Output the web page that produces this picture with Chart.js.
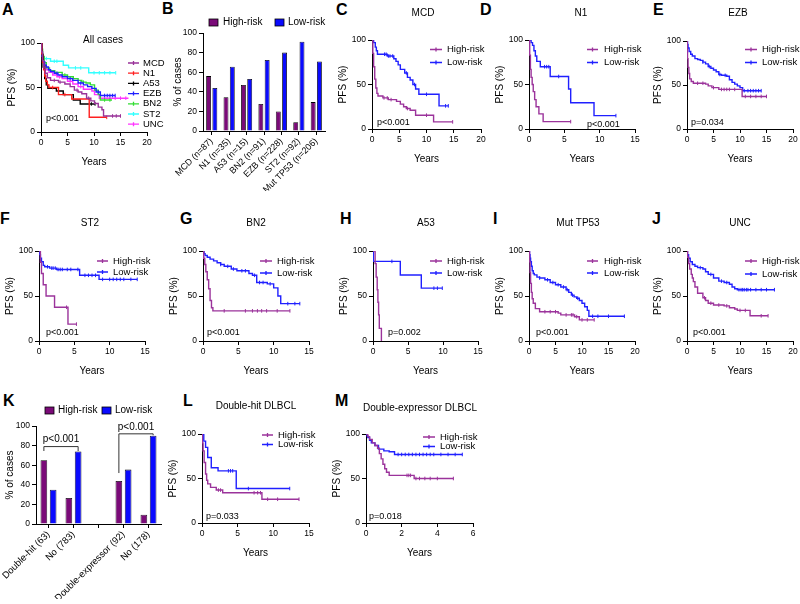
<!DOCTYPE html>
<html>
<head>
<meta charset="utf-8">
<title>PFS by risk group</title>
<script src="https://cdn.jsdelivr.net/npm/chart.js@4.4.1/dist/chart.umd.min.js"></script>
<style>
  body { margin: 0; background: #fff; }
  #wrap { position: relative; width: 800px; height: 604px; overflow: hidden; font-family: "Liberation Sans", Arial, sans-serif; }
  canvas { position: absolute; }
  .tag { position: absolute; font-size: 16px; line-height: 16px; font-weight: bold; color: #000; }
</style>
</head>
<body>
<div id="wrap">
  <div class="tag" style="left:2px;top:2px">A</div>
  <div class="tag" style="left:162px;top:1px">B</div>
  <div class="tag" style="left:336px;top:2px">C</div>
  <div class="tag" style="left:480px;top:2px">D</div>
  <div class="tag" style="left:653px;top:2px">E</div>
  <div class="tag" style="left:0px;top:211px">F</div>
  <div class="tag" style="left:180px;top:211px">G</div>
  <div class="tag" style="left:340px;top:211px">H</div>
  <div class="tag" style="left:493px;top:211px">I</div>
  <div class="tag" style="left:652px;top:211px">J</div>
  <div class="tag" style="left:3px;top:393px">K</div>
  <div class="tag" style="left:183px;top:393px">L</div>
  <div class="tag" style="left:335px;top:393px">M</div>
  <canvas id="cA"></canvas>
  <canvas id="cB"></canvas>
  <canvas id="cC"></canvas>
  <canvas id="cD"></canvas>
  <canvas id="cE"></canvas>
  <canvas id="cF"></canvas>
  <canvas id="cG"></canvas>
  <canvas id="cH"></canvas>
  <canvas id="cI"></canvas>
  <canvas id="cJ"></canvas>
  <canvas id="cK"></canvas>
  <canvas id="cL"></canvas>
  <canvas id="cM"></canvas>
</div>
<script>
// ---- data: step times (years), survival (%) and censor times ----

// A: all cases by subtype
const mcdAllT = [0, 0.1, 0.3, 0.5, 0.8, 1.2, 1.8, 3.3, 4.5, 5.5, 6.3, 7.0, 7.7, 8.6, 9.4, 10.1, 10.8, 11.5, 11.8, 15.0];
const mcdAllS = [100, 90, 80, 72, 66, 61, 58, 56, 54, 51, 47, 45, 43, 38, 35, 32, 28, 25, 18, 18];
const mcdAllC = [2.5, 3.6, 6.8, 9.0, 13.5, 14.2, 15.0];
const n1AllT = [0, 0.15, 0.3, 0.5, 0.7, 0.9, 1.2, 1.5, 3.3, 5.8, 9.1, 12.4];
const n1AllS = [100, 88, 78, 70, 63, 57, 53, 50, 42, 37, 16.5, 16.5];
const n1AllC = [2.2, 4.5, 12.4];
const a53AllT = [0, 0.2, 0.4, 0.7, 1.0, 1.3, 2.9, 4.2, 6.1, 7.4, 10.2];
const a53AllS = [100, 87, 73, 60, 53, 49, 46, 42, 36, 31.5, 31.5];
const a53AllC = [9.5, 10.2];
const ezbAllT = [0, 0.1, 0.2, 0.4, 0.7, 1.0, 1.4, 1.8, 2.5, 3.2, 4.0, 5.0, 6.0, 7.0, 8.0, 8.8, 9.6, 10.4, 11.2, 14.0];
const ezbAllS = [100, 92, 85, 79, 75, 73, 70, 68, 66, 64, 62, 60, 58, 55, 53, 51, 49, 45, 41, 41];
const ezbAllC = [3.0, 5.5, 7.5, 10.8, 12.0, 12.5, 13.0, 13.5, 14.0];
const bn2AllT = [0, 0.1, 0.3, 0.6, 1.0, 1.6, 2.6, 4.0, 5.0, 6.1, 7.0, 7.7, 8.5, 9.3, 10.1, 10.8, 11.2, 13.4];
const bn2AllS = [100, 93, 85, 78, 72, 69, 67, 64, 62, 60, 58, 56, 55, 53, 47, 42, 36, 36];
const bn2AllC = [4.5, 8.0, 12.0, 13.0];
const st2AllT = [0, 0.1, 0.2, 0.4, 0.6, 1.8, 4.2, 5.2, 9.0, 14.1];
const st2AllS = [100, 92, 87, 84, 82.5, 79.5, 75, 72, 66.5, 66.5];
const st2AllC = [1.0, 2.5, 3.0, 6.5, 7.5, 10.0, 11.0, 12.0, 13.0, 14.1];
const uncAllT = [0, 0.1, 0.3, 0.6, 1.0, 1.5, 2.2, 3.0, 4.0, 5.0, 6.0, 7.0, 8.0, 9.6, 10.1, 11.0, 16.5];
const uncAllS = [100, 90, 82, 75, 70, 67, 64, 62, 60, 57, 54, 51, 48, 46, 42, 38, 38];
const uncAllC = [3.5, 5.5, 7.5, 12.0, 13.0, 14.0, 15.0, 16.0];

// B: share of high / low risk per subtype
const subtypeLabels = ['MCD (n=87)', 'N1 (n=35)', 'A53 (n=15)', 'BN2 (n=91)', 'EZB (n=228)', 'ST2 (n=92)', 'Mut TP53 (n=206)'];
const subtypeHigh = [56, 34.5, 47, 27.5, 20, 9, 29.5];
const subtypeLow = [44, 65.5, 53, 72.5, 80, 91, 71];

// C: MCD
const mcdHighT = [0, 0.15, 0.3, 0.5, 0.7, 0.9, 1.1, 2.0, 3.0, 4.5, 5.2, 5.8, 6.3, 7.0, 8.0, 11.3, 14.8];
const mcdHighS = [100, 85, 70, 56, 46, 40, 37, 35, 33, 31, 28, 25, 23, 21, 15.5, 8, 8];
const mcdHighC = [2.2, 2.8, 3.5, 6.5, 10.0, 14.8];
const mcdLowT = [0, 0.3, 0.6, 0.8, 1.0, 2.8, 4.0, 4.4, 4.8, 5.2, 6.0, 6.5, 7.0, 7.5, 8.0, 8.6, 12.3, 14.0];
const mcdLowS = [100, 97, 92, 88, 84, 82, 79, 76, 72, 67, 63, 58, 55, 50, 45, 39, 26, 26];
const mcdLowC = [2.3, 2.6, 3.0, 3.3, 3.8, 6.3, 7.8, 10.0, 13.5, 14.0];

// D: N1
const n1HighT = [0, 0.1, 0.2, 0.3, 0.45, 0.6, 0.8, 1.0, 1.4, 2.0, 5.9];
const n1HighS = [100, 83, 67, 58, 50, 42, 33, 25, 17, 8.3, 8.3];
const n1HighC = [5.9];
const n1LowT = [0, 0.3, 0.5, 0.7, 0.9, 1.1, 1.6, 3.0, 5.6, 5.9, 9.2, 12.3];
const n1LowS = [100, 97, 94, 88, 82, 76, 70, 59, 45, 29.5, 15, 15];
const n1LowC = [2.2, 2.5, 2.8, 4.2, 12.3];

// E: EZB
const ezbHighT = [0, 0.05, 0.1, 0.2, 0.35, 0.5, 0.8, 1.2, 3.5, 4.0, 4.7, 6.0, 10.4, 15.0];
const ezbHighS = [100, 90, 80, 70, 63, 57, 54, 52, 51, 49, 47, 45, 37, 37];
const ezbHighC = [2.0, 3.0, 5.0, 6.5, 7.0, 7.5, 8.0, 9.0, 11.0, 12.0, 13.0, 14.0, 15.0];
const ezbLowT = [0, 0.1, 0.2, 0.4, 0.7, 1.0, 1.5, 2.0, 2.5, 3.0, 3.5, 4.0, 4.5, 5.0, 5.5, 6.0, 6.5, 7.5, 8.0, 8.5, 9.0, 9.5, 10.0, 10.5, 14.0];
const ezbLowS = [100, 96, 92, 88, 85, 83, 80, 79, 78, 76, 74, 71, 69, 67, 65, 62, 61, 60, 56, 53, 51, 49, 47, 43.5, 43.5];
const ezbLowC = [3.0, 4.2, 6.2, 7.2, 10.8, 11.5, 12.0, 12.5, 13.0, 13.5, 14.0];

// F: ST2
const st2HighT = [0, 0.2, 0.35, 0.6, 1.0, 2.2, 4.1, 5.3];
const st2HighS = [100, 87.5, 75, 62.5, 50, 37.5, 18.75, 18.75];
const st2HighC = [3.9, 5.3];
const st2LowT = [0, 0.1, 0.2, 0.35, 0.6, 0.8, 1.5, 2.5, 5.75, 8.5, 13.9];
const st2LowS = [100, 96, 92, 88, 84, 82.5, 81, 79.5, 73, 68.5, 68.5];
const st2LowC = [1.2, 1.8, 2.0, 2.3, 2.7, 3.0, 3.3, 4.0, 4.5, 5.5, 6.5, 7.0, 7.5, 8.0, 9.0, 10.0, 10.5, 11.0, 11.5, 12.0, 13.0, 13.9];

// G: BN2
const bn2HighT = [0, 0.1, 0.25, 0.4, 0.6, 0.8, 1.0, 1.2, 1.4, 12.3];
const bn2HighS = [100, 92, 85, 77, 68, 58, 45, 37, 33.5, 33.5];
const bn2HighC = [3.0, 6.0, 7.0, 7.7, 8.3, 9.0, 10.5, 12.3];
const bn2LowT = [0, 0.15, 0.3, 0.6, 1.0, 1.5, 2.0, 2.5, 3.0, 4.0, 4.8, 6.5, 7.0, 7.6, 9.1, 10.0, 10.6, 11.0, 13.7];
const bn2LowS = [100, 97, 95, 93, 91, 89, 87, 85, 83, 80, 78, 75, 73, 65, 63.5, 59, 50, 41.5, 41.5];
const bn2LowC = [2.5, 3.5, 4.3, 5.5, 6.0, 7.3, 8.0, 8.5, 9.5, 12.0, 13.0, 13.7];

// H: A53
const a53HighT = [0, 0.3, 0.45, 0.6, 0.7, 0.8, 0.9, 1.2];
const a53HighS = [100, 86, 71, 57, 43, 29, 14, 0];
const a53HighC = [];
const a53LowT = [0, 0.05, 3.9, 6.9, 9.9];
const a53LowS = [100, 88.5, 73.3, 58.7, 58.7];
const a53LowC = [2.7, 8.7, 9.2, 9.9];

// I: Mut TP53
const tp53HighT = [0, 0.1, 0.2, 0.3, 0.45, 0.6, 0.8, 1.2, 2.0, 5.5, 6.0, 8.6, 9.5, 12.3];
const tp53HighS = [100, 88, 76, 64, 54, 47, 42, 36, 32.5, 31, 29, 27, 23.5, 23.5];
const tp53HighC = [3.0, 4.0, 5.0, 7.0, 8.0, 8.3, 9.0, 10.0, 11.0, 12.3];
const tp53LowT = [0, 0.1, 0.2, 0.3, 0.45, 0.6, 0.8, 1.0, 1.5, 2.0, 3.0, 4.0, 5.0, 6.0, 7.0, 7.5, 8.0, 8.5, 9.0, 9.5, 10.0, 10.5, 11.0, 11.3, 18.0];
const tp53LowS = [100, 96, 92, 88, 83, 78, 75, 73.5, 71, 70, 68, 65, 62.5, 60, 57, 54, 51, 49, 47.5, 45, 42, 38, 34, 27.5, 27.5];
const tp53LowC = [2.0, 3.5, 4.5, 5.5, 6.5, 7.2, 8.2, 9.2, 12.0, 13.0, 15.0, 18.0];

// J: UNC
const uncHighT = [0, 0.1, 0.3, 0.5, 0.8, 1.0, 1.2, 1.5, 2.0, 3.0, 3.5, 4.0, 5.0, 7.0, 8.0, 9.0, 9.5, 11.9, 15.3];
const uncHighS = [100, 93, 86, 80, 74, 70, 66, 60, 53, 48, 45, 42, 40, 39, 37, 35.5, 34, 28, 28];
const uncHighC = [3.3, 4.5, 6.0, 7.5, 10.0, 11.0, 14.0, 15.3];
const uncLowT = [0, 0.1, 0.3, 0.6, 1.0, 1.5, 2.0, 3.0, 3.5, 4.0, 5.0, 6.0, 7.0, 8.0, 8.5, 9.0, 9.5, 16.5];
const uncLowS = [100, 96, 92, 88, 85, 83, 81.5, 80, 77, 74, 70, 66.5, 65, 63, 60, 58, 57, 57];
const uncLowC = [2.5, 4.5, 6.5, 7.5, 9.8, 10.2, 10.5, 10.8, 11.2, 11.5, 12.0, 13.0, 14.0, 15.0, 16.5];

// K: double-hit / double-expressor share
const dlbclLabels = ['Double-hit (63)', 'No (783)', '', 'Double-expressor (92)', 'No (178)'];
const dlbclHigh = [65, 26.5, null, 44, 9.5];
const dlbclLow = [35, 74, null, 55.5, 90];

// L: double-hit DLBCL
const dhHighT = [0, 0.05, 0.15, 0.3, 0.5, 0.65, 0.8, 1.2, 2.0, 2.9, 8.4, 13.6];
const dhHighS = [100, 90, 81, 68, 55, 48, 44, 40, 37, 34, 26.7, 26.7];
const dhHighC = [2.3, 2.6, 7.3, 7.8, 8.2, 9.2, 10.6, 13.6];
const dhLowT = [0, 0.25, 0.5, 0.8, 1.3, 2.25, 4.8, 12.3];
const dhLowS = [100, 92, 85, 73.6, 62, 58.6, 38.7, 38.7];
const dhLowC = [3.7, 4.0, 4.3, 6.5, 12.3];

// M: double-expressor DLBCL
const deHighT = [0, 0.1, 0.2, 0.35, 0.5, 0.65, 0.75, 0.85, 0.95, 1.05, 1.15, 1.3, 2.7, 4.9];
const deHighS = [100, 97, 94, 90, 87, 84, 78, 72, 66, 61, 57, 53.5, 50, 50];
const deHighC = [2.3, 2.4, 2.5, 2.8, 3.0, 3.3, 3.6, 4.0, 4.9];
const deLowT = [0, 0.05, 0.1, 0.2, 0.3, 0.5, 0.7, 1.0, 1.3, 1.6, 5.4];
const deLowS = [100, 98, 96, 93, 90, 87, 83, 81, 80, 77, 77];
const deLowC = [1.8, 2.0, 2.2, 2.4, 2.6, 2.8, 3.0, 3.2, 3.4, 3.6, 3.8, 4.2, 4.6, 5.0, 5.4];

// ---- styling ----
const HIGH = '#9b339b';
const LOW = '#2020ff';
const HIGH_BAR = '#7a0a78';
const LOW_BAR = '#0a0aff';
const FONT = '"Liberation Sans", Arial, sans-serif';

Chart.defaults.font.family = FONT;
Chart.defaults.color = '#000';

function survAt(T, S, t) {
  let s = S[0];
  for (let i = 0; i < T.length; i++) {
    if (T[i] <= t) s = S[i];
  }
  return s;
}

function axis(extra) {
  return Object.assign({
    border: { display: true, color: '#000', width: 1 },
    grid: { display: true, drawOnChartArea: false, drawTicks: true, tickLength: 4, color: '#000', lineWidth: 1 },
  }, extra);
}

function hr(name, t, s, c, color) {
  return { name: name, t: t, s: s, c: c, color: color };
}

const kmPanels = [
  { id: 'cA', ox: 41, oy: 132, top: 43, xLen: 106, xMax: 20, step: 5,
    title: 'All cases', tx: 103, ty: 40, p: 'p<0.001', px: 46, py: 119,
    leg: { x1: 128, x2: 139, tx: 143, y0: 63, dy: 10.2 },
    curves: [hr('MCD', mcdAllT, mcdAllS, mcdAllC, '#993399'), hr('N1', n1AllT, n1AllS, n1AllC, '#ff2020'),
      hr('A53', a53AllT, a53AllS, a53AllC, '#000000'), hr('EZB', ezbAllT, ezbAllS, ezbAllC, '#1f1fff'),
      hr('BN2', bn2AllT, bn2AllS, bn2AllC, '#33dd33'), hr('ST2', st2AllT, st2AllS, st2AllC, '#33ffff'),
      hr('UNC', uncAllT, uncAllS, uncAllC, '#ff33ff')] },
  { id: 'cC', ox: 372, oy: 129, top: 40, xLen: 109, xMax: 20, step: 5,
    title: 'MCD', tx: 423, ty: 13, p: 'p<0.001', px: 377, py: 123,
    leg: { x1: 430, x2: 442, tx: 447, y0: 49.5, dy: 13 },
    curves: [hr('High-risk', mcdHighT, mcdHighS, mcdHighC, HIGH), hr('Low-risk', mcdLowT, mcdLowS, mcdLowC, LOW)] },
  { id: 'cD', ox: 529, oy: 129, top: 40, xLen: 106, xMax: 15, step: 5,
    title: 'N1', tx: 581, ty: 13, p: 'p<0.001', px: 587, py: 125,
    leg: { x1: 587, x2: 598, tx: 604, y0: 49.5, dy: 13 },
    curves: [hr('High-risk', n1HighT, n1HighS, n1HighC, HIGH), hr('Low-risk', n1LowT, n1LowS, n1LowC, LOW)] },
  { id: 'cE', ox: 687, oy: 129, top: 41, xLen: 106, xMax: 20, step: 5,
    title: 'EZB', tx: 738, ty: 13, p: 'p=0.034', px: 691, py: 123,
    leg: { x1: 745, x2: 757, tx: 762, y0: 49.5, dy: 13 },
    curves: [hr('High-risk', ezbHighT, ezbHighS, ezbHighC, HIGH), hr('Low-risk', ezbLowT, ezbLowS, ezbLowC, LOW)] },
  { id: 'cF', ox: 39, oy: 341, top: 251, xLen: 106, xMax: 15, step: 5,
    title: 'ST2', tx: 90, ty: 223, p: 'p<0.001', px: 46, py: 333,
    leg: { x1: 97, x2: 108, tx: 113, y0: 261, dy: 11 },
    curves: [hr('High-risk', st2HighT, st2HighS, st2HighC, HIGH), hr('Low-risk', st2LowT, st2LowS, st2LowC, LOW)] },
  { id: 'cG', ox: 203, oy: 341, top: 251, xLen: 106, xMax: 15, step: 5,
    title: 'BN2', tx: 256, ty: 223, p: 'p<0.001', px: 207, py: 333,
    leg: { x1: 260, x2: 272, tx: 277, y0: 261, dy: 12 },
    curves: [hr('High-risk', bn2HighT, bn2HighS, bn2HighC, HIGH), hr('Low-risk', bn2LowT, bn2LowS, bn2LowC, LOW)] },
  { id: 'cH', ox: 373, oy: 341, top: 251, xLen: 105, xMax: 15, step: 5,
    title: 'A53', tx: 426, ty: 223, p: 'p=0.002', px: 388, py: 333,
    leg: { x1: 430, x2: 442, tx: 447, y0: 261, dy: 12 },
    curves: [hr('High-risk', a53HighT, a53HighS, a53HighC, HIGH), hr('Low-risk', a53LowT, a53LowS, a53LowC, LOW)] },
  { id: 'cI', ox: 529, oy: 341, top: 251, xLen: 106, xMax: 20, step: 5,
    title: 'Mut TP53', tx: 578, ty: 223, p: 'p<0.001', px: 536, py: 333,
    leg: { x1: 587, x2: 598, tx: 604, y0: 261, dy: 12 },
    curves: [hr('High-risk', tp53HighT, tp53HighS, tp53HighC, HIGH), hr('Low-risk', tp53LowT, tp53LowS, tp53LowC, LOW)] },
  { id: 'cJ', ox: 687, oy: 341, top: 251, xLen: 106, xMax: 20, step: 5,
    title: 'UNC', tx: 740, ty: 223, p: 'p<0.001', px: 693, py: 333,
    leg: { x1: 745, x2: 757, tx: 762, y0: 261, dy: 13 },
    curves: [hr('High-risk', uncHighT, uncHighS, uncHighC, HIGH), hr('Low-risk', uncLowT, uncLowS, uncLowC, LOW)] },
  { id: 'cL', ox: 202, oy: 523, top: 434, xLen: 107, xMax: 15, step: 5,
    title: 'Double-hit DLBCL', tx: 256, ty: 406, p: 'p=0.033', px: 206, py: 517,
    leg: { x1: 262, x2: 273, tx: 278, y0: 435, dy: 9.5 },
    curves: [hr('High-risk', dhHighT, dhHighS, dhHighC, HIGH), hr('Low-risk', dhLowT, dhLowS, dhLowC, LOW)] },
  { id: 'cM', ox: 366, oy: 523, top: 434, xLen: 107, xMax: 6, step: 2,
    title: 'Double-expressor DLBCL', tx: 420, ty: 408, p: 'p=0.018', px: 369, py: 517,
    leg: { x1: 423, x2: 435, tx: 440, y0: 437, dy: 9.5 },
    curves: [hr('High-risk', deHighT, deHighS, deHighC, HIGH), hr('Low-risk', deLowT, deLowS, deLowC, LOW)] },
];

// titles, p values and the little legends, drawn in page coordinates
function kmText(p, L, T) {
  return {
    id: 'kmText',
    afterDraw(chart) {
      const ctx = chart.ctx;
      ctx.save();
      ctx.fillStyle = '#000';
      ctx.textBaseline = 'middle';
      ctx.font = '10px ' + FONT;
      ctx.textAlign = 'center';
      ctx.fillText(p.title, p.tx - L, p.ty - T);
      ctx.textAlign = 'left';
      ctx.font = '9px ' + FONT;
      ctx.fillText(p.p, p.px - L, p.py - T);
      ctx.font = '9.5px ' + FONT;
      p.curves.forEach((c, i) => {
        const y = p.leg.y0 + i * p.leg.dy - T;
        const xm = (p.leg.x1 + p.leg.x2) / 2 - L;
        ctx.strokeStyle = c.color;
        ctx.lineWidth = 1.3;
        ctx.beginPath();
        ctx.moveTo(p.leg.x1 - L, y);
        ctx.lineTo(p.leg.x2 - L, y);
        ctx.moveTo(xm, y - 2);
        ctx.lineTo(xm, y + 2);
        ctx.stroke();
        ctx.fillText(c.name, p.leg.tx - L, y);
      });
      ctx.restore();
    }
  };
}

function kmChart(p) {
  const ylen = p.oy - p.top;
  const L = p.ox - 50, T = p.top - 45;
  const cv = document.getElementById(p.id);
  cv.width = 50 + p.xLen + 45;
  cv.height = 45 + ylen + 40;
  cv.style.left = L + 'px';
  cv.style.top = T + 'px';

  const datasets = [];
  p.curves.forEach(c => {
    datasets.push({
      data: c.t.map((t, i) => ({ x: t, y: c.s[i] })),
      borderColor: c.color, borderWidth: 1.4, stepped: true, pointRadius: 0, fill: false,
    });
    datasets.push({
      data: c.c.map(t => ({ x: t, y: survAt(c.t, c.s, t) })),
      showLine: false, borderColor: c.color, pointStyle: 'line', pointRotation: 90,
      pointRadius: 1.8, pointBorderWidth: 1, pointBorderColor: c.color,
    });
  });

  return new Chart(cv, {
    type: 'line',
    data: { datasets: datasets },
    options: {
      responsive: false,
      animation: false,
      events: [],
      layout: { padding: { left: 15, top: 45, right: 45, bottom: 4 } },
      plugins: { legend: { display: false }, tooltip: { enabled: false } },
      scales: {
        x: axis({
          type: 'linear', min: 0, max: p.xMax,
          ticks: { stepSize: p.step, maxRotation: 0, font: { size: 8.5 }, padding: 2, color: '#000' },
          title: { display: true, text: 'Years', font: { size: 10 }, padding: 0, color: '#000' },
          afterFit: s => { s.height = 36; },
        }),
        y: axis({
          type: 'linear', min: 0, max: 100,
          ticks: { stepSize: 50, font: { size: 8.5 }, padding: 2, color: '#000' },
          title: { display: true, text: 'PFS (%)', font: { size: 10 }, padding: 0, color: '#000' },
          afterFit: s => { s.width = 35; },
        }),
      },
    },
    plugins: [kmText(p, L, T)],
  });
}

kmPanels.forEach(kmChart);

// ---- bar charts ----
const barPanels = [
  { id: 'cB', ox: 203, oy: 131, top: 33, xLen: 122, below: 70, yw: 31, cp: 0.72, bp: 0.78, labelSize: 9,
    labels: subtypeLabels, high: subtypeHigh, low: subtypeLow,
    leg: { y: 22.5, s1: 209, t1: 223, s2: 275, t2: 288 }, brackets: [] },
  { id: 'cK', ox: 36, oy: 524, top: 426, xLen: 125, below: 85, yw: 32, cp: 0.74, bp: 0.72, labelSize: 9.5,
    labels: dlbclLabels, high: dlbclHigh, low: dlbclLow,
    leg: { y: 410.5, s1: 45, t1: 58, s2: 102, t2: 115 },
    brackets: [ { a: [0, 0], b: [1, 1], top: 79, endA: 74.5, endB: 74.5 },
                { a: [0, 3], b: [1, 4], top: 92, endA: 52, endB: 90.5 } ] },
];

function barText(b, L, T) {
  return {
    id: 'barText',
    afterDraw(chart) {
      const ctx = chart.ctx;
      ctx.save();
      ctx.font = '10px ' + FONT;
      ctx.textBaseline = 'middle';
      ctx.textAlign = 'left';
      const y = b.leg.y - T;
      [[b.leg.s1, b.leg.t1, HIGH_BAR, 'High-risk'], [b.leg.s2, b.leg.t2, LOW_BAR, 'Low-risk']].forEach(e => {
        ctx.fillStyle = e[2];
        ctx.fillRect(e[0] - L, y - 3.5, 9, 7);
        ctx.strokeStyle = '#000';
        ctx.lineWidth = 0.8;
        ctx.strokeRect(e[0] - L, y - 3.5, 9, 7);
        ctx.fillStyle = '#000';
        ctx.fillText(e[3], e[1] - L, y);
      });
      // significance brackets
      const ys = chart.scales.y;
      ctx.strokeStyle = '#333';
      ctx.lineWidth = 1;
      ctx.textAlign = 'center';
      ctx.textBaseline = 'bottom';
      b.brackets.forEach(k => {
        const xa = chart.getDatasetMeta(k.a[0]).data[k.a[1]].x;
        const xb = chart.getDatasetMeta(k.b[0]).data[k.b[1]].x;
        const yt = ys.getPixelForValue(k.top);
        ctx.beginPath();
        ctx.moveTo(xa, ys.getPixelForValue(k.endA));
        ctx.lineTo(xa, yt);
        ctx.lineTo(xb, yt);
        ctx.lineTo(xb, ys.getPixelForValue(k.endB));
        ctx.stroke();
        ctx.fillText('p<0.001', (xa + xb) / 2, yt - 2);
      });
      ctx.restore();
    }
  };
}

function barChart(b) {
  const L = b.ox - 50, T = b.top - 30;
  const cv = document.getElementById(b.id);
  cv.width = 50 + b.xLen + 15;
  cv.height = 30 + (b.oy - b.top) + b.below;
  cv.style.left = L + 'px';
  cv.style.top = T + 'px';

  return new Chart(cv, {
    type: 'bar',
    data: {
      labels: b.labels,
      datasets: [
        { data: b.high, backgroundColor: HIGH_BAR, borderColor: '#000', borderWidth: 0.8,
          categoryPercentage: b.cp, barPercentage: b.bp },
        { data: b.low, backgroundColor: LOW_BAR, borderColor: '#000', borderWidth: 0.8,
          categoryPercentage: b.cp, barPercentage: b.bp },
      ],
    },
    options: {
      responsive: false,
      animation: false,
      events: [],
      layout: { padding: { left: 50 - b.yw, top: 30, right: 15, bottom: 10 } },
      plugins: { legend: { display: false }, tooltip: { enabled: false } },
      scales: {
        x: axis({
          grid: { display: true, offset: false, drawOnChartArea: false, drawTicks: true, tickLength: 4, color: '#000', lineWidth: 1 },
          ticks: { autoSkip: false, minRotation: 45, maxRotation: 45, font: { size: b.labelSize }, padding: 1, color: '#000' },
          afterFit: s => { s.height = b.below - 10; },
        }),
        y: axis({
          min: 0, max: 100,
          ticks: { stepSize: 20, font: { size: 8.5 }, padding: 2, color: '#000' },
          title: { display: true, text: '% of cases', font: { size: 10 }, padding: 0, color: '#000' },
          afterFit: s => { s.width = b.yw; },
        }),
      },
    },
    plugins: [barText(b, L, T)],
  });
}

barPanels.forEach(barChart);
</script>
</body>
</html>
